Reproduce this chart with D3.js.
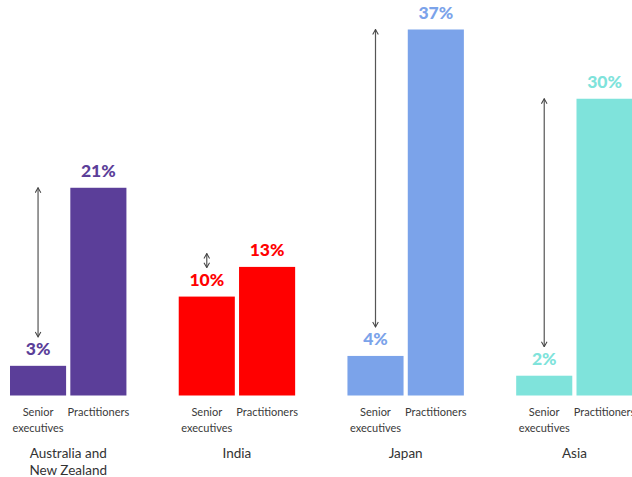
<!DOCTYPE html>
<html>
<head>
<meta charset="utf-8">
<script src="https://cdn.jsdelivr.net/npm/d3@7/dist/d3.min.js"></script>
<style>
  html, body { margin: 0; padding: 0; background: #fff; }
  svg { display: block; }
</style>
</head>
<body>
<svg id="chart" width="632" height="477"></svg>
<script>
// regions and the two groups compared in each
const regions = ['Australia and New Zealand', 'India', 'Japan', 'Asia'];
const regionLines = [['Australia and', 'New Zealand'], ['India'], ['Japan'], ['Asia']];
const seriesKeys = ['senior', 'practitioners'];
const seriesLines = [['Senior', 'executives'], ['Practitioners']];
const seniorValues = [3, 10, 4, 2];
const practitionerValues = [21, 13, 37, 30];
const regionColors = ['#5b3e99', '#ff0000', '#7ba3ea', '#7fe3db'];

const svg = d3.select('#chart');
const baseY = 395.5;

const x0 = d3.scaleBand()
    .domain(regions)
    .range([10, 632.6])
    .paddingInner(0.31)
    .paddingOuter(0);

const x1 = d3.scaleBand()
    .domain(seriesKeys)
    .range([0, x0.bandwidth()])
    .paddingInner(0.07);

const y = d3.scaleLinear()
    .domain([0, 37])
    .range([baseY, 29.5]);

const data = regions.map((r, i) => ({
    region: r,
    lines: regionLines[i],
    color: regionColors[i],
    values: [
        { key: 'senior', value: seniorValues[i] },
        { key: 'practitioners', value: practitionerValues[i] }
    ]
}));

// arrow marker
const defs = svg.append('defs');
defs.append('marker')
    .attr('id', 'chev')
    .attr('viewBox', '0 0 10 10')
    .attr('refX', 9)
    .attr('refY', 5)
    .attr('markerWidth', 7)
    .attr('markerHeight', 7)
    .attr('markerUnits', 'userSpaceOnUse')
    .attr('orient', 'auto-start-reverse')
    .append('path')
    .attr('d', 'M2,1 L9,5 L2,9')
    .attr('fill', 'none')
    .attr('stroke', '#444')
    .attr('stroke-width', 1.5);

const group = svg.selectAll('g.region')
    .data(data)
    .enter()
    .append('g')
    .attr('class', 'region')
    .attr('transform', d => `translate(${x0(d.region)},0)`);

group.selectAll('rect')
    .data(d => d.values.map(v => ({ ...v, color: d.color })))
    .enter()
    .append('rect')
    .attr('x', d => x1(d.key))
    .attr('y', d => y(d.value))
    .attr('width', x1.bandwidth())
    .attr('height', d => baseY - y(d.value))
    .attr('fill', d => d.color);

group.selectAll('text.val')
    .data(d => d.values.map(v => ({ ...v, color: d.color })))
    .enter()
    .append('text')
    .attr('class', 'val')
    .attr('x', d => x1(d.key) + x1.bandwidth() / 2)
    .attr('y', d => y(d.value) - 10.5)
    .attr('text-anchor', 'middle')
    .style('font-family', 'Lato, sans-serif')
    .style('font-weight', '900')
    .style('font-size', '17.5px')
    .style('fill', d => d.color)
    .text(d => d.value + '%');

// double arrow from the practitioners level down to the senior label
group.append('line')
    .attr('x1', x1('senior') + x1.bandwidth() / 2)
    .attr('x2', x1('senior') + x1.bandwidth() / 2)
    .attr('y1', d => {
        const labelTop = y(d.values[0].value) - 23;
        return Math.min(y(d.values[1].value), labelTop - 20);
    })
    .attr('y2', d => y(d.values[0].value) - 29)
    .attr('stroke', '#555')
    .attr('stroke-width', 1.2)
    .attr('marker-start', 'url(#chev)')
    .attr('marker-end', 'url(#chev)');

// series labels under each bar
seriesKeys.forEach((k, si) => {
    const t = group.append('text')
        .attr('x', x1(k) + x1.bandwidth() / 2)
        .attr('y', 416)
        .attr('text-anchor', 'middle')
        .style('font-family', 'Lato, sans-serif')
        .style('font-size', '11px')
        .style('fill', '#3a3a3a');
    seriesLines[si].forEach((line, li) => {
        t.append('tspan')
            .attr('x', x1(k) + x1.bandwidth() / 2)
            .attr('dy', li === 0 ? 0 : 15.5)
            .text(line);
    });
});

// region names
const rl = group.append('text')
    .attr('x', x0.bandwidth() / 2)
    .attr('y', 458)
    .attr('text-anchor', 'middle')
    .style('font-family', 'Lato, sans-serif')
    .style('font-size', '13.5px')
    .style('fill', '#333');

rl.selectAll('tspan')
    .data(d => d.lines)
    .enter()
    .append('tspan')
    .attr('x', x0.bandwidth() / 2)
    .attr('dy', (d, i) => i === 0 ? 0 : 17)
    .text(d => d);
</script>
</body>
</html>
